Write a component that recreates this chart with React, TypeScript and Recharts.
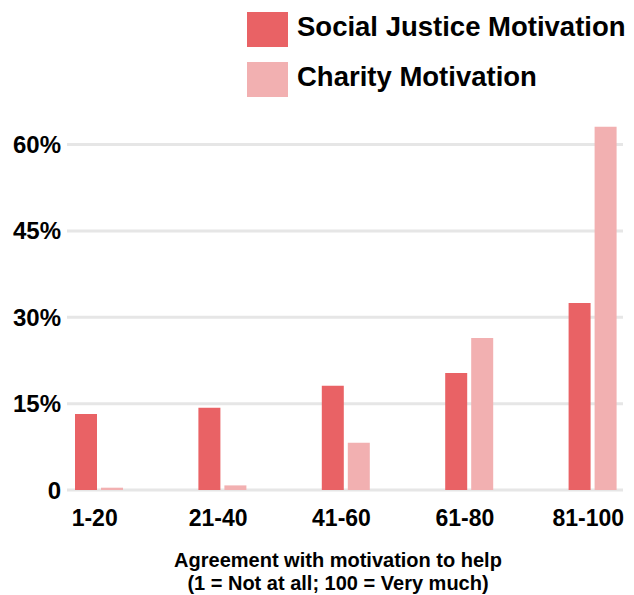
import React from "react";
import { BarChart, Bar, CartesianGrid, XAxis, YAxis, Legend, Label } from "recharts";

const categories = ["1-20", "21-40", "41-60", "61-80", "81-100"];
const socialJustice = [13.2, 14.3, 18.1, 20.3, 32.5];
const charity = [0.4, 0.8, 8.2, 26.4, 63.1];
const yTicks = [0, 15, 30, 45, 60];

const SOCIAL_COLOR = "#E96265";
const CHARITY_COLOR = "#F2B0B1";
const FONT = '"Liberation Sans", Arial, Helvetica, sans-serif';

const data = categories.map((range, i) => ({
  range,
  social: socialJustice[i],
  charity: charity[i],
}));

const legendItems = [
  { name: "Social Justice Motivation", color: SOCIAL_COLOR },
  { name: "Charity Motivation", color: CHARITY_COLOR },
];

const LegendBox = () => (
  <div style={{ fontFamily: FONT, fontWeight: 700 }}>
    {legendItems.map((item) => (
      <div key={item.name} style={{ display: "flex", alignItems: "center", height: 35, marginBottom: 15 }}>
        <div style={{ width: 41, height: 35, background: item.color, marginRight: 9 }} />
        <span style={{ fontSize: 27.5, color: "#000", lineHeight: "35px", marginTop: -6 }}>{item.name}</span>
      </div>
    ))}
  </div>
);

const YTick = (props: any) => {
  const { x, y, payload } = props;
  const v = payload.value;
  return (
    <text x={x} y={y + 8.5} textAnchor="end" fontFamily={FONT} fontWeight={700} fontSize={24} fill="#000">
      {v === 0 ? "0" : `${v}%`}
    </text>
  );
};

const XTick = (props: any) => {
  const { x, y, payload } = props;
  return (
    <text x={x - 4} y={y + 36} textAnchor="middle" fontFamily={FONT} fontWeight={700} fontSize={23} fill="#000">
      {payload.value}
    </text>
  );
};

const AxisTitle = () => (
  <g fontFamily={FONT} fontWeight={700} fontSize={20} fill="#000" textAnchor="middle">
    <text x={338} y={567}>Agreement with motivation to help</text>
    <text x={338} y={590}>(1 = Not at all; 100 = Very much)</text>
  </g>
);

export default function App() {
  return (
    <div style={{ width: 634, height: 595, background: "#fff" }}>
      <style>{`body{margin:0}`}</style>
      <BarChart
        width={634}
        height={595}
        data={data}
        margin={{ top: 110, right: 11, bottom: 0, left: 0 }}
        barSize={22}
        barGap={4}
      >
        {/* grid lines only at the labelled percentages */}
        <CartesianGrid vertical={false} stroke="#E6E6E6" strokeWidth={3} horizontalValues={yTicks} />
        <XAxis
          dataKey="range"
          axisLine={false}
          tickLine={false}
          tickSize={0}
          tickMargin={0}
          padding={{ left: -30, right: -31 }}
          interval={0}
          tick={<XTick />}
          height={105}
        >
          <Label content={<AxisTitle />} />
        </XAxis>
        <YAxis
          domain={[0, 66]}
          ticks={yTicks}
          axisLine={false}
          tickLine={false}
          tickSize={0}
          tickMargin={6}
          width={67}
          tick={<YTick />}
        />
        <Legend
          content={<LegendBox />}
          layout="horizontal"
          verticalAlign="middle"
          align="center"
          wrapperStyle={{ top: 12, left: 247, width: 400 }}
        />
        <Bar dataKey="social" name="Social Justice Motivation" fill={SOCIAL_COLOR} isAnimationActive={false} />
        <Bar dataKey="charity" name="Charity Motivation" fill={CHARITY_COLOR} isAnimationActive={false} />
      </BarChart>
    </div>
  );
}
